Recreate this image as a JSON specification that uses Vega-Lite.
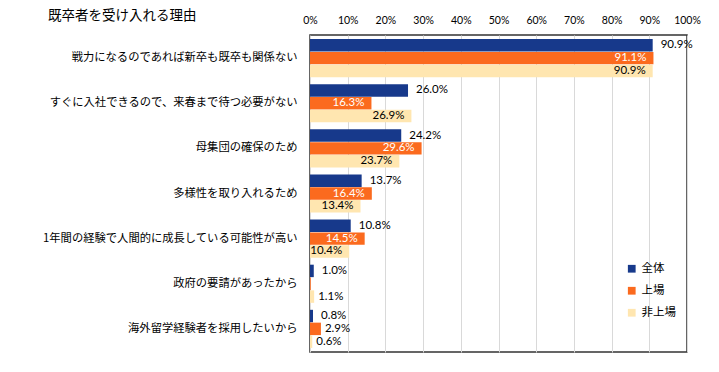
{
  "$schema": "https://vega.github.io/schema/vega-lite/v6.json",
  "autosize": {"type": "none"},
  "padding": {"left": 310, "top": 35, "right": 32, "bottom": 20},
  "width": 377,
  "height": 317,
  "title": {
    "text": "既卒者を受け入れる理由",
    "anchor": "start",
    "frame": "group",
    "dx": -262,
    "dy": 18,
    "offset": 11,
    "font": "Noto Sans CJK JP",
    "fontSize": 13.5,
    "fontWeight": "normal",
    "color": "#000000"
  },
  "config": {
    "view": {"stroke": "#333333", "strokeWidth": 1.5},
    "font": "Noto Sans CJK JP"
  },
  "data": {
    "values": [
      {"reason": "戦力になるのであれば新卒も既卒も関係ない", "series": "全体", "value": 0.909},
      {"reason": "戦力になるのであれば新卒も既卒も関係ない", "series": "上場", "value": 0.911},
      {"reason": "戦力になるのであれば新卒も既卒も関係ない", "series": "非上場", "value": 0.909},
      {"reason": "すぐに入社できるので、来春まで待つ必要がない", "series": "全体", "value": 0.260},
      {"reason": "すぐに入社できるので、来春まで待つ必要がない", "series": "上場", "value": 0.163},
      {"reason": "すぐに入社できるので、来春まで待つ必要がない", "series": "非上場", "value": 0.269},
      {"reason": "母集団の確保のため", "series": "全体", "value": 0.242},
      {"reason": "母集団の確保のため", "series": "上場", "value": 0.296},
      {"reason": "母集団の確保のため", "series": "非上場", "value": 0.237},
      {"reason": "多様性を取り入れるため", "series": "全体", "value": 0.137},
      {"reason": "多様性を取り入れるため", "series": "上場", "value": 0.164},
      {"reason": "多様性を取り入れるため", "series": "非上場", "value": 0.134},
      {"reason": "1年間の経験で人間的に成長している可能性が高い", "series": "全体", "value": 0.108},
      {"reason": "1年間の経験で人間的に成長している可能性が高い", "series": "上場", "value": 0.145},
      {"reason": "1年間の経験で人間的に成長している可能性が高い", "series": "非上場", "value": 0.104},
      {"reason": "政府の要請があったから", "series": "全体", "value": 0.010},
      {"reason": "政府の要請があったから", "series": "上場", "value": 0.002},
      {"reason": "政府の要請があったから", "series": "非上場", "value": 0.011},
      {"reason": "海外留学経験者を採用したいから", "series": "全体", "value": 0.008},
      {"reason": "海外留学経験者を採用したいから", "series": "上場", "value": 0.029},
      {"reason": "海外留学経験者を採用したいから", "series": "非上場", "value": 0.006}
    ]
  },
  "encoding": {
    "y": {
      "field": "reason",
      "type": "nominal",
      "sort": null,
      "title": null,
      "scale": {"paddingInner": 0.155, "paddingOuter": 0.09},
      "axis": {
        "orient": "left",
        "domain": false,
        "ticks": false,
        "labelPadding": 13,
        "labelFontSize": 11.3,
        "labelColor": "#000000",
        "labelLimit": 400,
        "labelFont": "Noto Sans CJK JP"
      }
    },
    "yOffset": {
      "field": "series",
      "type": "nominal",
      "sort": ["全体", "上場", "非上場"],
      "scale": {"paddingInner": 0.03}
    },
    "x": {
      "field": "value",
      "type": "quantitative",
      "title": null,
      "scale": {"domain": [0, 1], "nice": false},
      "axis": {
        "orient": "top",
        "format": ".0%",
        "values": [0, 0.1, 0.2, 0.3, 0.4, 0.5, 0.6, 0.7, 0.8, 0.9, 1],
        "domain": false,
        "ticks": false,
        "labelFlush": false,
        "labelOverlap": false,
        "labelPadding": 10,
        "labelFontSize": 10.5,
        "labelColor": "#000000",
        "labelFont": "Lato",
        "grid": true,
        "gridColor": "#d9d9d9",
        "gridWidth": 1
      }
    }
  },
  "layer": [
    {
      "mark": {"type": "bar"},
      "encoding": {
        "color": {
          "field": "series",
          "type": "nominal",
          "sort": ["全体", "上場", "非上場"],
          "scale": {
            "domain": ["全体", "上場", "非上場"],
            "range": ["#17398B", "#FB6A1E", "#FFE6B0"]
          },
          "legend": {
            "title": null,
            "orient": "none",
            "legendX": 316,
            "legendY": 228,
            "symbolType": "square",
            "symbolSize": 60,
            "symbolStrokeWidth": 0,
            "labelFontSize": 11.5,
            "labelColor": "#000000",
            "labelFont": "Noto Sans CJK JP",
            "rowPadding": 9,
            "labelOffset": 4
          }
        }
      }
    },
    {
      "transform": [{"filter": "datum.series === '全体'"}],
      "mark": {"type": "text", "align": "left", "dx": 8, "fontSize": 11.5, "font": "Lato", "color": "#000000"},
      "encoding": {
        "text": {"field": "value", "type": "quantitative", "format": ".1%"}
      }
    },
    {
      "transform": [{"filter": "datum.series !== '全体' && datum.value < 0.05 && datum.value >= 0.005"}],
      "mark": {"type": "text", "align": "left", "dx": 4, "fontSize": 11.5, "font": "Lato", "color": "#000000"},
      "encoding": {
        "text": {"field": "value", "type": "quantitative", "format": ".1%"}
      }
    },
    {
      "transform": [{"filter": "datum.series !== '全体' && datum.value >= 0.05"}],
      "mark": {"type": "text", "align": "right", "dx": -7, "fontSize": 11.5, "font": "Lato"},
      "encoding": {
        "text": {"field": "value", "type": "quantitative", "format": ".1%"},
        "color": {
          "condition": {"test": "datum.series === '上場'", "value": "#ffffff"},
          "value": "#000000"
        }
      }
    }
  ]
}
